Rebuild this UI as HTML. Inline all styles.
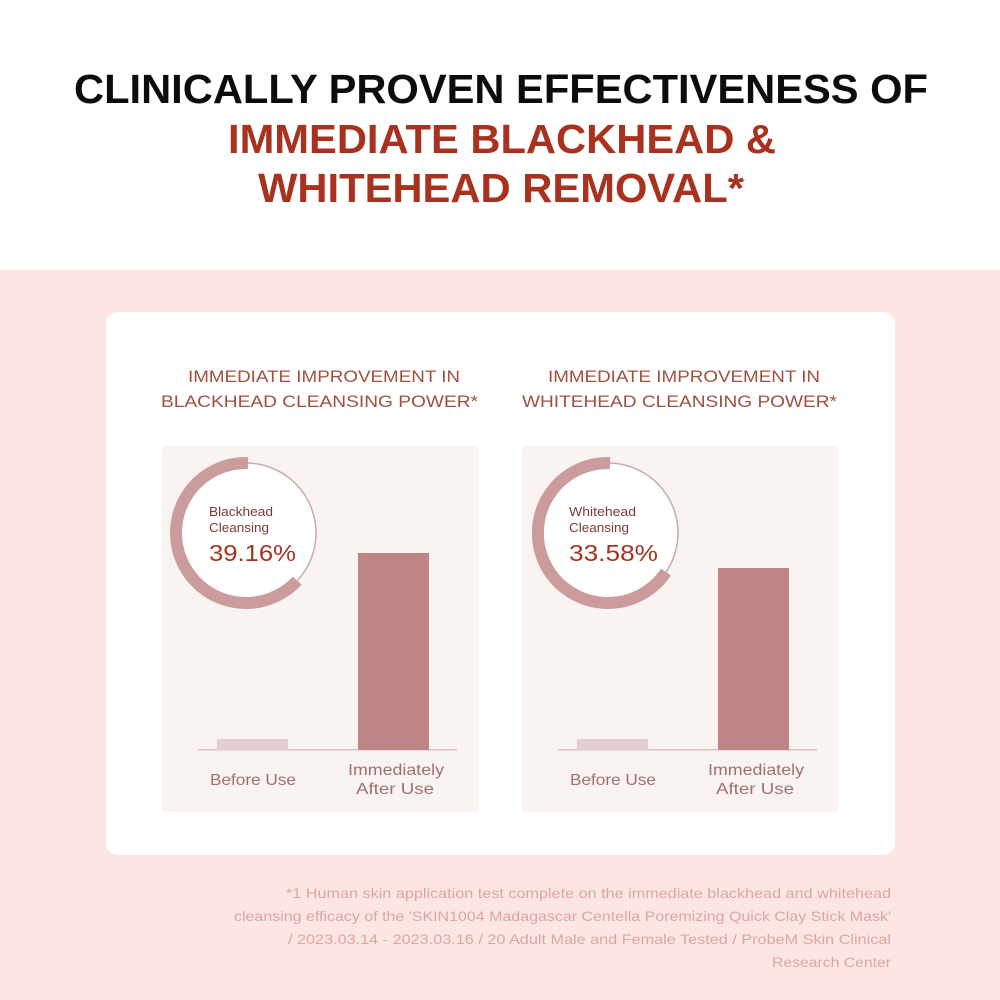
<!DOCTYPE html>
<html><head><meta charset="utf-8"><style>
html,body{margin:0;padding:0;background:#fff}
svg{display:block}
</style></head><body>
<svg width="1000" height="1000" viewBox="0 0 1000 1000" xmlns="http://www.w3.org/2000/svg" font-family="Liberation Sans, sans-serif">
<rect width="1000" height="1000" fill="#fff"/>
<rect y="270" width="1000" height="730" fill="#fde5e4"/>
<rect x="106" y="312" width="789" height="543" rx="12" fill="#fff"/>
<g font-weight="bold" font-size="41" text-anchor="start">
<text x="74" y="103" textLength="854" lengthAdjust="spacingAndGlyphs" fill="#0c0c0c">CLINICALLY PROVEN EFFECTIVENESS OF</text>
<text x="228" y="153" textLength="548" lengthAdjust="spacingAndGlyphs" fill="#a8321f">IMMEDIATE BLACKHEAD &amp;</text>
<text x="258" y="202" textLength="486" lengthAdjust="spacingAndGlyphs" fill="#a8321f">WHITEHEAD REMOVAL*</text>
</g>
<g font-size="17" fill="#a0503f">
<text x="188" y="382" textLength="272" lengthAdjust="spacingAndGlyphs">IMMEDIATE IMPROVEMENT IN</text>
<text x="161" y="407" textLength="317" lengthAdjust="spacingAndGlyphs">BLACKHEAD CLEANSING POWER*</text>
<text x="548" y="382" textLength="272" lengthAdjust="spacingAndGlyphs">IMMEDIATE IMPROVEMENT IN</text>
<text x="522" y="407" textLength="315" lengthAdjust="spacingAndGlyphs">WHITEHEAD CLEANSING POWER*</text>
</g>
<rect x="162" y="446" width="317" height="366" rx="4" fill="#f9f3f2"/>
<rect x="522" y="446" width="317" height="366" rx="4" fill="#f9f3f2"/>
<!-- left -->
<circle cx="246" cy="533" r="70" fill="#fff" stroke="#c9aaaa" stroke-width="1.5"/>
<path d="M248 463 A70 70 0 1 0 297.2 580.7" fill="none" stroke="#cc9c9c" stroke-width="12"/>
<text x="209" y="516" font-size="13" fill="#7a3a30" textLength="64" lengthAdjust="spacingAndGlyphs">Blackhead</text>
<text x="209" y="532" font-size="13" fill="#7a3a30" textLength="60" lengthAdjust="spacingAndGlyphs">Cleansing</text>
<text x="209" y="561" font-size="23" fill="#a8321f" textLength="87" lengthAdjust="spacingAndGlyphs">39.16%</text>
<rect x="198" y="749" width="259" height="1.5" fill="#d9c4c4"/>
<rect x="217" y="739" width="71" height="11" fill="#e3cfcf"/>
<rect x="358" y="553" width="71" height="197" fill="#bf8585"/>
<g font-size="16" fill="#a07070">
<text x="210" y="785" textLength="86" lengthAdjust="spacingAndGlyphs">Before Use</text>
<text x="348" y="775" textLength="96" lengthAdjust="spacingAndGlyphs">Immediately</text>
<text x="356" y="794" textLength="78" lengthAdjust="spacingAndGlyphs">After Use</text>
</g>
<!-- right -->
<circle cx="608" cy="533" r="70" fill="#fff" stroke="#c9aaaa" stroke-width="1.5"/>
<path d="M610 463 A70 70 0 1 0 666 572" fill="none" stroke="#cc9c9c" stroke-width="12"/>
<text x="569" y="516" font-size="13" fill="#7a3a30" textLength="67" lengthAdjust="spacingAndGlyphs">Whitehead</text>
<text x="569" y="532" font-size="13" fill="#7a3a30" textLength="60" lengthAdjust="spacingAndGlyphs">Cleansing</text>
<text x="569" y="561" font-size="23" fill="#a8321f" textLength="89" lengthAdjust="spacingAndGlyphs">33.58%</text>
<rect x="558" y="749" width="259" height="1.5" fill="#d9c4c4"/>
<rect x="577" y="739" width="71" height="11" fill="#e3cfcf"/>
<rect x="718" y="568" width="71" height="182" fill="#bf8585"/>
<g font-size="16" fill="#a07070">
<text x="570" y="785" textLength="86" lengthAdjust="spacingAndGlyphs">Before Use</text>
<text x="708" y="775" textLength="96" lengthAdjust="spacingAndGlyphs">Immediately</text>
<text x="716" y="794" textLength="78" lengthAdjust="spacingAndGlyphs">After Use</text>
</g>
<g font-size="14" fill="#d8a8a0">
<text x="286" y="898" textLength="605" lengthAdjust="spacingAndGlyphs">*1 Human skin application test complete on the immediate blackhead and whitehead</text>
<text x="234" y="921" textLength="657" lengthAdjust="spacingAndGlyphs">cleansing efficacy of the 'SKIN1004 Madagascar Centella Poremizing Quick Clay Stick Mask'</text>
<text x="288" y="944" textLength="603" lengthAdjust="spacingAndGlyphs">/ 2023.03.14 - 2023.03.16 / 20 Adult Male and Female Tested / ProbeM Skin Clinical</text>
<text x="772" y="967" textLength="119" lengthAdjust="spacingAndGlyphs">Research Center</text>
</g>
</svg>
</body></html>
